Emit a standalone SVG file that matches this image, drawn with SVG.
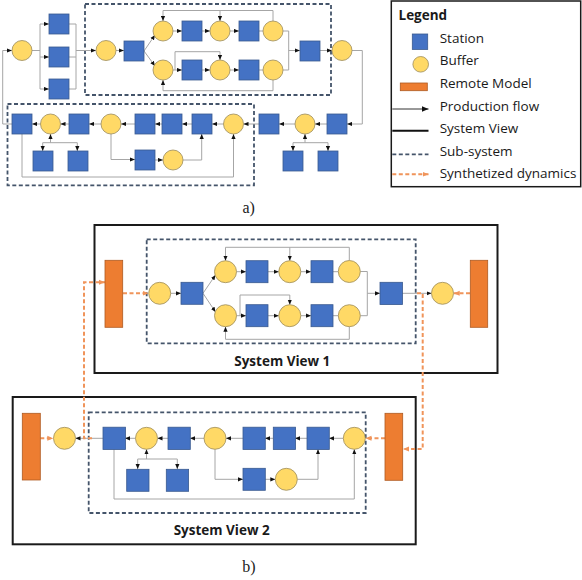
<svg xmlns="http://www.w3.org/2000/svg" width="582" height="580" viewBox="0 0 582 580">
<defs>
<style>
.st{fill:#4472c4;stroke:#3a5a8f;stroke-width:0.8}
.bf{fill:#ffd966;stroke:#9c8c5c;stroke-width:0.8}
.rm{fill:#ed7d31;stroke:#ae5a21;stroke-width:0.8}
.ln{fill:none;stroke:#a6a6a6;stroke-width:1}
.ar{marker-end:url(#ah)}
.sub{fill:none;stroke:#44546a;stroke-width:1.8;stroke-dasharray:4,2.5}
.sv{fill:none;stroke:#1a1a1a;stroke-width:2}
.syn{fill:none;stroke:#f0945a;stroke-width:2;stroke-dasharray:4,2.5;marker-end:url(#oh)}
.lg{font-family:"Open Sans","Liberation Sans",sans-serif;font-size:13.5px;fill:#1a1a1a}
.ttl{font-family:"Open Sans","Liberation Sans",sans-serif;font-size:13.5px;font-weight:bold;fill:#1a1a1a;text-anchor:middle}
.cap{font-family:"Liberation Serif",serif;font-size:16px;fill:#1a1a1a}
</style>
<marker id="ah" markerUnits="userSpaceOnUse" markerWidth="5" markerHeight="5" viewBox="0 0 5 5" refX="5" refY="2.5" orient="auto"><path d="M0,0.4 L5,2.5 L0,4.6 z" fill="#111"/></marker>
<marker id="oh" markerUnits="userSpaceOnUse" markerWidth="6" markerHeight="6" viewBox="0 0 6 6" refX="6" refY="3" orient="auto"><path d="M0,0.5 L6,3 L0,5.5 z" fill="#f0945a"/></marker>
<marker id="lh" markerUnits="userSpaceOnUse" markerWidth="7" markerHeight="7" viewBox="0 0 7 7" refX="7" refY="3.5" orient="auto"><path d="M0,0.5 L7,3.5 L0,6.5 z" fill="#111"/></marker>
</defs>
<rect width="582" height="580" fill="#fff"/>

<!-- ================= (a) ================= -->
<g id="a-subsystems">
<rect class="sub" x="85" y="4" width="246" height="91"/>
<rect class="sub" x="7.5" y="104" width="246.5" height="81.3"/>
</g>
<g id="a-connectors">
<path class="ln" d="M32,50.5 H40 M40,24 V89 M69,24 H76 M69,57 H76 M69,89 H76 M76,24 V89"/>
<path class="ln ar" d="M40,24 H49"/>
<path class="ln ar" d="M40,57 H49"/>
<path class="ln ar" d="M40,89 H49"/>
<path class="ln ar" d="M76,50.5 H96"/>
<path class="ln ar" d="M116,50.5 H124"/>
<path class="ln ar" d="M144,51 L155,35"/>
<path class="ln ar" d="M144,51 L155,66"/>
<path class="ln ar" d="M173,31 H182"/>
<path class="ln ar" d="M202,31 H210"/>
<path class="ln ar" d="M230,31 H239"/>
<path class="ln" d="M259,31 H263"/>
<path class="ln ar" d="M173,70 H182"/>
<path class="ln ar" d="M202,70 H210"/>
<path class="ln ar" d="M230,70 H239"/>
<path class="ln" d="M259,70 H263"/>
<path class="ln ar" d="M273,21 V10.5 H163 V21"/>
<path class="ln ar" d="M220,10.5 V21"/>
<path class="ln ar" d="M175,70 V51.7 H220 V60"/>
<path class="ln ar" d="M273,80 V90.7 H163 V80"/>
<path class="ln" d="M283,31 H288.7 V70 H283"/>
<path class="ln ar" d="M288.7,50.5 H300"/>
<path class="ln ar" d="M320,50.5 H332"/>
<path class="ln ar" d="M352,50.5 H362.3 V124 H347"/>
<path class="ln ar" d="M327,124 H315"/>
<path class="ln ar" d="M295,124 H279"/>
<path class="ln" d="M293,142.7 H328"/>
<path class="ln ar" d="M305,142.7 V134"/>
<path class="ln ar" d="M293,142.7 V151"/>
<path class="ln ar" d="M328,142.7 V151"/>
<path class="ln ar" d="M259,124 H243.5"/>
<path class="ln ar" d="M223.5,124 H212"/>
<path class="ln ar" d="M192,124 H182"/>
<path class="ln ar" d="M162,124 H155"/>
<path class="ln ar" d="M135,124 H121"/>
<path class="ln ar" d="M101,124 H89"/>
<path class="ln ar" d="M69,124 H60.5"/>
<path class="ln ar" d="M40.5,124 H32"/>
<path class="ln ar" d="M12,124 H2.7 V50.5 H12"/>
<path class="ln" d="M42.7,142.7 H77.3"/>
<path class="ln ar" d="M50.5,142.7 V134"/>
<path class="ln ar" d="M42.7,142.7 V151"/>
<path class="ln ar" d="M77.3,142.7 V151"/>
<path class="ln ar" d="M111,134 V159.5 H135"/>
<path class="ln ar" d="M155,160 H163"/>
<path class="ln ar" d="M183,160 H201.7 V134"/>
<path class="ln ar" d="M22,134 V177 H233.5 V134"/>
</g>
<g id="a-nodes">
<g id="a-c1"><circle class="bf" cx="22" cy="50.5" r="10"/></g>
<g id="a-s1"><rect class="st" x="49" y="14" width="20" height="20"/></g>
<g id="a-s2"><rect class="st" x="49" y="47" width="20" height="20"/></g>
<g id="a-s3"><rect class="st" x="49" y="79" width="20" height="20"/></g>
<g id="a-c2"><circle class="bf" cx="106" cy="50.5" r="10"/></g>
<g id="a-s4"><rect class="st" x="124" y="41" width="20" height="20"/></g>
<g id="a-c3"><circle class="bf" cx="163" cy="31" r="10"/></g>
<g id="a-s5"><rect class="st" x="182" y="21" width="20" height="20"/></g>
<g id="a-c4"><circle class="bf" cx="220" cy="31" r="10"/></g>
<g id="a-s6"><rect class="st" x="239" y="21" width="20" height="20"/></g>
<g id="a-c5"><circle class="bf" cx="273" cy="31" r="10"/></g>
<g id="a-c6"><circle class="bf" cx="163" cy="70" r="10"/></g>
<g id="a-s7"><rect class="st" x="182" y="60" width="20" height="20"/></g>
<g id="a-c7"><circle class="bf" cx="220" cy="70" r="10"/></g>
<g id="a-s8"><rect class="st" x="239" y="60" width="20" height="20"/></g>
<g id="a-c8"><circle class="bf" cx="273" cy="70" r="10"/></g>
<g id="a-s9"><rect class="st" x="300" y="41" width="20" height="20"/></g>
<g id="a-c9"><circle class="bf" cx="342" cy="50.5" r="10"/></g>
<g id="a-s10"><rect class="st" x="327" y="114" width="20" height="20"/></g>
<g id="a-c10"><circle class="bf" cx="305" cy="124" r="10"/></g>
<g id="a-s11"><rect class="st" x="259" y="114" width="20" height="20"/></g>
<g id="a-s12"><rect class="st" x="283" y="151" width="20" height="20"/></g>
<g id="a-s13"><rect class="st" x="318" y="151" width="20" height="20"/></g>
<g id="a-c11"><circle class="bf" cx="233.5" cy="124" r="10"/></g>
<g id="a-s14"><rect class="st" x="192" y="114" width="20" height="20"/></g>
<g id="a-s15"><rect class="st" x="162" y="114" width="20" height="20"/></g>
<g id="a-s16"><rect class="st" x="135" y="114" width="20" height="20"/></g>
<g id="a-c12"><circle class="bf" cx="111" cy="124" r="10"/></g>
<g id="a-s17"><rect class="st" x="135" y="150" width="20" height="20"/></g>
<g id="a-c13"><circle class="bf" cx="173" cy="160" r="10"/></g>
<g id="a-s18"><rect class="st" x="69" y="114" width="20" height="20"/></g>
<g id="a-c14"><circle class="bf" cx="50.5" cy="124" r="10"/></g>
<g id="a-s19"><rect class="st" x="12" y="114" width="20" height="20"/></g>
<g id="a-s20"><rect class="st" x="33" y="151" width="20" height="20"/></g>
<g id="a-s21"><rect class="st" x="68" y="151" width="20" height="20"/></g>
</g>
<text class="cap" x="242.5" y="213">a)</text>

<!-- ================= Legend ================= -->
<g id="legend">
<rect x="391.3" y="1" width="189.4" height="185.7" fill="#fff" stroke="#1a1a1a" stroke-width="1.5"/>
<text class="lg" x="398.5" y="19.5" font-weight="bold" font-size="12.5">Legend</text>
<rect class="st" x="412.3" y="34" width="15.4" height="15.4"/>
<text class="lg" x="439.7" y="42.7">Station</text>
<circle class="bf" cx="420.7" cy="64.3" r="7.8"/>
<text class="lg" x="439.7" y="65.3">Buffer</text>
<rect class="rm" x="400.3" y="83" width="27" height="7.7"/>
<text class="lg" x="439.7" y="88">Remote Model</text>
<path d="M392.3,109 H428.5" stroke="#333" stroke-width="1" fill="none" marker-end="url(#lh)"/>
<text class="lg" x="439.7" y="110.5">Production flow</text>
<path d="M392.3,130.7 H428.5" stroke="#111" stroke-width="2" fill="none"/>
<text class="lg" x="439.7" y="133">System View</text>
<path d="M392.3,154.3 H428.5" class="sub"/>
<text class="lg" x="439.7" y="155.5">Sub-system</text>
<path d="M392.3,174.3 H428.5" class="syn"/>
<text class="lg" x="439.7" y="178">Synthetized dynamics</text>
</g>

<!-- ================= (b) ================= -->
<g id="b-frames">
<rect class="sv" x="94.5" y="225" width="403" height="148"/>
<rect class="sub" x="146.7" y="239.3" width="269" height="104"/>
<rect class="sv" x="12.7" y="397" width="403" height="147.3"/>
<rect class="sub" x="88.7" y="412.3" width="277" height="100.7"/>
</g>
<g id="b-connectors">
<path class="ln ar" d="M170.7,293.3 H181"/>
<path class="ln ar" d="M203,293.3 L215.5,275"/>
<path class="ln ar" d="M203,293.3 L215.5,312"/>
<path class="ln ar" d="M236.5,271.7 H246"/>
<path class="ln ar" d="M268,271.7 H278.8"/>
<path class="ln ar" d="M300.8,271.7 H311"/>
<path class="ln" d="M333,271.7 H338.3"/>
<path class="ln ar" d="M236.5,315.7 H246"/>
<path class="ln ar" d="M268,315.7 H278.8"/>
<path class="ln ar" d="M300.8,315.7 H311"/>
<path class="ln" d="M333,315.7 H338.3"/>
<path class="ln ar" d="M349.3,260.5 V247.3 H225.5 V260.7"/>
<path class="ln ar" d="M289.8,247.3 V260.7"/>
<path class="ln ar" d="M240,315.7 V295 H289.8 V304.7"/>
<path class="ln ar" d="M349.3,326.7 V339.3 H225.5 V326.7"/>
<path class="ln" d="M360.3,271.5 H367.3 V315.7 H360.3"/>
<path class="ln ar" d="M367.3,293.3 H380"/>
<path class="ln ar" d="M402,293.3 H431.5"/>
<path class="ln ar" d="M343.3,438.3 H329"/>
<path class="ln ar" d="M307,438.3 H295"/>
<path class="ln ar" d="M273,438.3 H265"/>
<path class="ln ar" d="M243,438.3 H226"/>
<path class="ln ar" d="M204,438.3 H190"/>
<path class="ln ar" d="M168,438.3 H157.5"/>
<path class="ln ar" d="M135.5,438.3 H125"/>
<path class="ln ar" d="M103,438.3 H75.5"/>
<path class="ln" d="M137.7,459 H177.3"/>
<path class="ln ar" d="M146.5,459 V449.3"/>
<path class="ln ar" d="M137.7,459 V469"/>
<path class="ln ar" d="M177.3,459 V469"/>
<path class="ln ar" d="M215,449.3 V479.3 H243"/>
<path class="ln ar" d="M265,479.3 H275.3"/>
<path class="ln ar" d="M297.3,479.3 H318 V449.3"/>
<path class="ln ar" d="M114,449.3 V499 H354.3 V449.3"/>
<path class="syn" d="M123,293.3 H148.5"/>
<path class="syn" d="M470,293.3 H453.7"/>
<path class="syn" d="M92,438.3 H84 V282.3 H105"/>
<path class="syn" d="M417,293.3 H422.7 V449 H403"/>
<path class="syn" d="M40.3,438.3 H53.3"/>
<path class="syn" d="M385,438.3 H365.5"/>
</g>
<g id="b-nodes">
<g id="b-rm1"><rect class="rm" x="105" y="260.3" width="17.7" height="67"/></g>
<g id="b-d1"><circle class="bf" cx="159.7" cy="293.3" r="11"/></g>
<g id="b-t1"><rect class="st" x="181" y="282.3" width="22" height="22"/></g>
<g id="b-d2"><circle class="bf" cx="225.5" cy="271.7" r="11"/></g>
<g id="b-t2"><rect class="st" x="246" y="260.7" width="22" height="22"/></g>
<g id="b-d3"><circle class="bf" cx="289.8" cy="271.7" r="11"/></g>
<g id="b-t3"><rect class="st" x="311" y="260.7" width="22" height="22"/></g>
<g id="b-d4"><circle class="bf" cx="349.3" cy="271.5" r="11"/></g>
<g id="b-d5"><circle class="bf" cx="225.5" cy="315.7" r="11"/></g>
<g id="b-t4"><rect class="st" x="246" y="304.7" width="22" height="22"/></g>
<g id="b-d6"><circle class="bf" cx="289.8" cy="315.7" r="11"/></g>
<g id="b-t5"><rect class="st" x="311" y="304.7" width="22" height="22"/></g>
<g id="b-d7"><circle class="bf" cx="349.3" cy="315.7" r="11"/></g>
<g id="b-t6"><rect class="st" x="380" y="282.3" width="22.5" height="22.3"/></g>
<g id="b-d8"><circle class="bf" cx="442.5" cy="293.3" r="11"/></g>
<g id="b-rm2"><rect class="rm" x="470.3" y="260.3" width="17.4" height="67"/></g>

<g id="b-rm3"><rect class="rm" x="22.3" y="413.3" width="18" height="66.7"/></g>
<g id="b-e1"><circle class="bf" cx="64.5" cy="438.3" r="11"/></g>
<g id="b-u1"><rect class="st" x="103" y="427.2" width="22.5" height="22.3"/></g>
<g id="b-e2"><circle class="bf" cx="146.5" cy="438.3" r="11"/></g>
<g id="b-u2"><rect class="st" x="168" y="427.2" width="22.3" height="22.3"/></g>
<g id="b-e3"><circle class="bf" cx="215" cy="438.3" r="11"/></g>
<g id="b-u3"><rect class="st" x="243" y="427.2" width="22.3" height="22.3"/></g>
<g id="b-u4"><rect class="st" x="273.3" y="427.2" width="22.3" height="22.3"/></g>
<g id="b-u5"><rect class="st" x="307" y="427.2" width="22.3" height="22.3"/></g>
<g id="b-e4"><circle class="bf" cx="354.3" cy="438.3" r="11"/></g>
<g id="b-rm4"><rect class="rm" x="385" y="413.3" width="17.7" height="67"/></g>
<g id="b-u6"><rect class="st" x="126.7" y="469.3" width="22.3" height="22"/></g>
<g id="b-u7"><rect class="st" x="166.3" y="469.3" width="22.3" height="22"/></g>
<g id="b-u8"><rect class="st" x="243" y="468.3" width="22.3" height="22"/></g>
<g id="b-e5"><circle class="bf" cx="286.3" cy="479.3" r="11"/></g>
</g>
<text class="ttl" x="282.3" y="365.5">System View 1</text>
<text class="ttl" x="221.7" y="535">System View 2</text>
<text class="cap" x="242.3" y="572.3">b)</text>
</svg>
